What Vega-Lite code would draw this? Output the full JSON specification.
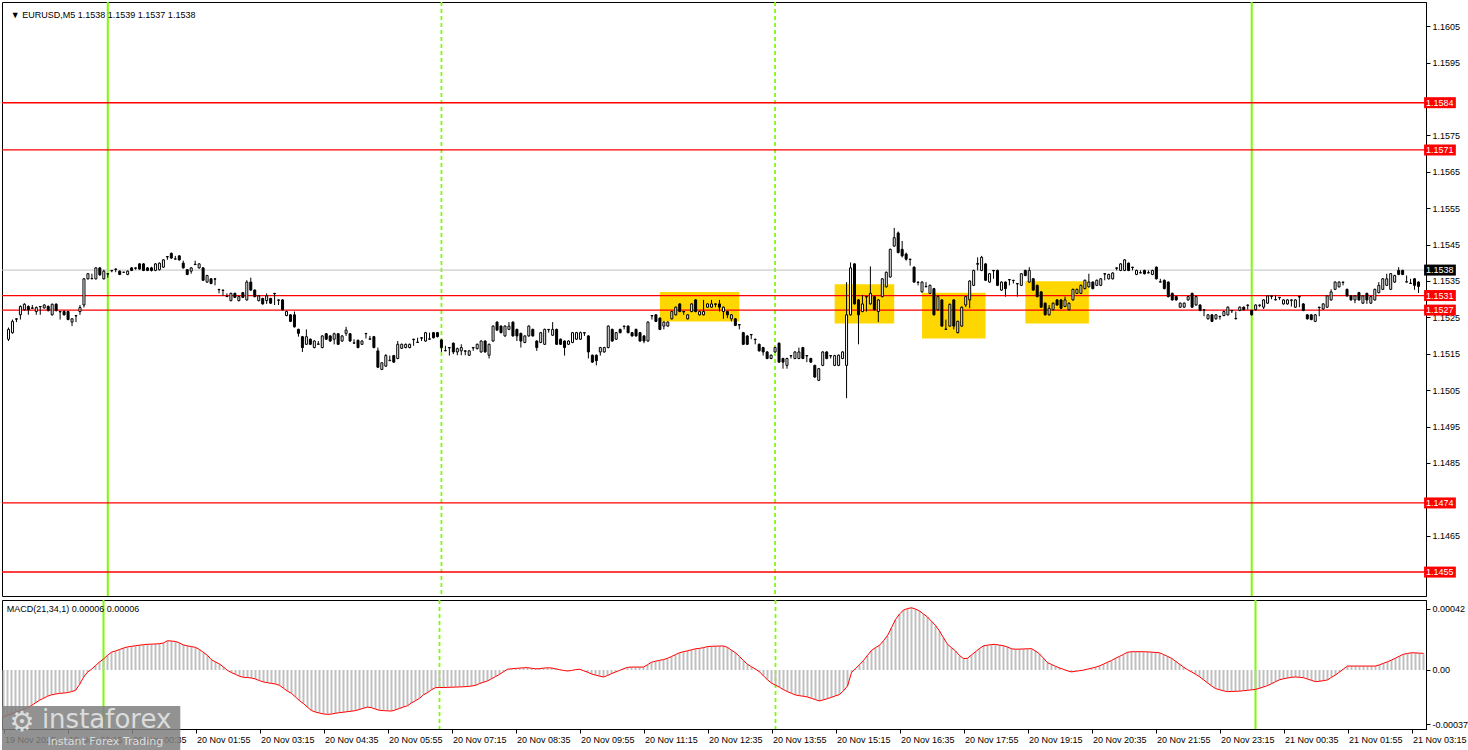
{
"$schema":"https://vega.github.io/schema/vega-lite/v6.json",
"padding":{"left":0,"top":0,"right":0,"bottom":0},
"background":"white",
"spacing":0,
"config":{"view":{"stroke":"black","strokeWidth":1},"axis":{"labelFont":"Liberation Sans","labelFontSize":9,"labelColor":"#000000","tickColor":"#000000","domainColor":"#000000","grid":false},"text":{"font":"Liberation Sans"}},
"datasets":{
"bars":[
{"t":"2025-11-19T21:55","o":1.1519,"h":1.15222,"l":1.15185,"c":1.15217,"m":-0.00032},
{"t":"2025-11-19T22:00","o":1.15208,"h":1.15244,"l":1.15205,"c":1.15239,"m":-0.00031},
{"t":"2025-11-19T22:05","o":1.15246,"h":1.15247,"l":1.15237,"c":1.15245,"m":-0.0003},
{"t":"2025-11-19T22:10","o":1.15257,"h":1.15283,"l":1.15244,"c":1.1528,"m":-0.00029},
{"t":"2025-11-19T22:15","o":1.15271,"h":1.15289,"l":1.15269,"c":1.15286,"m":-0.00028},
{"t":"2025-11-19T22:20","o":1.1528,"h":1.15283,"l":1.15257,"c":1.15271,"m":-0.00027},
{"t":"2025-11-19T22:25","o":1.15276,"h":1.15284,"l":1.15275,"c":1.15275,"m":-0.000258},
{"t":"2025-11-19T22:30","o":1.15266,"h":1.1528,"l":1.15257,"c":1.15277,"m":-0.000243},
{"t":"2025-11-19T22:35","o":1.1528,"h":1.15281,"l":1.15257,"c":1.15279,"m":-0.000225},
{"t":"2025-11-19T22:40","o":1.15276,"h":1.15286,"l":1.15274,"c":1.15284,"m":-0.000207},
{"t":"2025-11-19T22:45","o":1.1528,"h":1.15283,"l":1.15266,"c":1.15269,"m":-0.000194},
{"t":"2025-11-19T22:50","o":1.15257,"h":1.15288,"l":1.15255,"c":1.15286,"m":-0.00018},
{"t":"2025-11-19T22:55","o":1.15286,"h":1.15289,"l":1.15266,"c":1.15269,"m":-0.00017},
{"t":"2025-11-19T23:00","o":1.15266,"h":1.15267,"l":1.15244,"c":1.15265,"m":-0.000165},
{"t":"2025-11-19T23:05","o":1.15266,"h":1.15269,"l":1.15255,"c":1.15257,"m":-0.00016},
{"t":"2025-11-19T23:10","o":1.15266,"h":1.15268,"l":1.15242,"c":1.15244,"m":-0.000158},
{"t":"2025-11-19T23:15","o":1.15237,"h":1.15248,"l":1.15226,"c":1.15246,"m":-0.000155},
{"t":"2025-11-19T23:20","o":1.15255,"h":1.15256,"l":1.15237,"c":1.15254,"m":-0.000148},
{"t":"2025-11-19T23:25","o":1.15266,"h":1.15284,"l":1.15257,"c":1.15277,"m":-0.00014},
{"t":"2025-11-19T23:30","o":1.15284,"h":1.15358,"l":1.15277,"c":1.15356,"m":-0.0001},
{"t":"2025-11-19T23:35","o":1.15356,"h":1.15372,"l":1.15354,"c":1.1537,"m":-0.00005},
{"t":"2025-11-19T23:40","o":1.15356,"h":1.1537,"l":1.15355,"c":1.15357,"m":-0.000015},
{"t":"2025-11-19T23:45","o":1.15356,"h":1.15388,"l":1.15354,"c":1.15386,"m":0.000005},
{"t":"2025-11-19T23:50","o":1.15386,"h":1.15388,"l":1.15364,"c":1.15367,"m":0.00003},
{"t":"2025-11-19T23:55","o":1.15356,"h":1.15381,"l":1.15354,"c":1.15377,"m":0.000055},
{"t":"2025-11-20T00:00","o":1.1537,"h":1.15371,"l":1.15359,"c":1.15369,"m":0.000075},
{"t":"2025-11-20T00:05","o":1.15379,"h":1.1538,"l":1.15374,"c":1.15378,"m":0.0001},
{"t":"2025-11-20T00:10","o":1.15383,"h":1.15384,"l":1.15374,"c":1.15382,"m":0.000122},
{"t":"2025-11-20T00:15","o":1.15377,"h":1.15379,"l":1.15366,"c":1.15368,"m":0.00013},
{"t":"2025-11-20T00:20","o":1.15374,"h":1.15375,"l":1.15373,"c":1.15374,"m":0.00014},
{"t":"2025-11-20T00:25","o":1.15368,"h":1.15379,"l":1.15366,"c":1.15377,"m":0.00015},
{"t":"2025-11-20T00:30","o":1.15386,"h":1.15388,"l":1.15377,"c":1.15379,"m":0.000158},
{"t":"2025-11-20T00:35","o":1.15386,"h":1.15387,"l":1.15381,"c":1.15385,"m":0.000162},
{"t":"2025-11-20T00:40","o":1.15397,"h":1.15399,"l":1.15381,"c":1.15383,"m":0.000166},
{"t":"2025-11-20T00:45","o":1.15397,"h":1.15399,"l":1.15377,"c":1.15379,"m":0.00017},
{"t":"2025-11-20T00:50","o":1.15386,"h":1.15388,"l":1.15377,"c":1.15379,"m":0.000173},
{"t":"2025-11-20T00:55","o":1.15386,"h":1.15389,"l":1.15376,"c":1.15379,"m":0.000176},
{"t":"2025-11-20T01:00","o":1.15379,"h":1.15399,"l":1.15377,"c":1.15397,"m":0.000177},
{"t":"2025-11-20T01:05","o":1.15381,"h":1.15401,"l":1.15379,"c":1.15399,"m":0.000178},
{"t":"2025-11-20T01:10","o":1.15388,"h":1.1541,"l":1.15386,"c":1.15408,"m":0.00018},
{"t":"2025-11-20T01:15","o":1.15417,"h":1.15418,"l":1.15408,"c":1.15416,"m":0.000185},
{"t":"2025-11-20T01:20","o":1.15426,"h":1.15428,"l":1.15411,"c":1.15413,"m":0.0002},
{"t":"2025-11-20T01:25","o":1.1541,"h":1.15419,"l":1.15409,"c":1.15411,"m":0.000198},
{"t":"2025-11-20T01:30","o":1.15419,"h":1.15421,"l":1.15406,"c":1.15408,"m":0.000195},
{"t":"2025-11-20T01:35","o":1.15399,"h":1.15406,"l":1.15384,"c":1.15386,"m":0.000185},
{"t":"2025-11-20T01:40","o":1.15381,"h":1.15383,"l":1.15366,"c":1.15368,"m":0.000171},
{"t":"2025-11-20T01:45","o":1.15377,"h":1.15388,"l":1.1537,"c":1.15386,"m":0.000165},
{"t":"2025-11-20T01:50","o":1.15395,"h":1.15406,"l":1.15394,"c":1.15396,"m":0.00016},
{"t":"2025-11-20T01:55","o":1.15386,"h":1.15399,"l":1.15384,"c":1.15397,"m":0.000155},
{"t":"2025-11-20T02:00","o":1.15386,"h":1.15388,"l":1.1535,"c":1.15352,"m":0.00014},
{"t":"2025-11-20T02:05","o":1.15347,"h":1.15367,"l":1.15345,"c":1.15365,"m":0.00012},
{"t":"2025-11-20T02:10","o":1.15356,"h":1.15358,"l":1.15341,"c":1.15343,"m":0.0001},
{"t":"2025-11-20T02:15","o":1.15356,"h":1.15357,"l":1.15338,"c":1.15355,"m":0.00007},
{"t":"2025-11-20T02:20","o":1.15327,"h":1.15328,"l":1.15316,"c":1.15326,"m":0.000055},
{"t":"2025-11-20T02:25","o":1.15325,"h":1.15326,"l":1.15309,"c":1.15324,"m":0.000041},
{"t":"2025-11-20T02:30","o":1.15307,"h":1.15316,"l":1.15306,"c":1.15308,"m":0.00002},
{"t":"2025-11-20T02:35","o":1.15296,"h":1.15318,"l":1.15294,"c":1.15316,"m":-0.000003},
{"t":"2025-11-20T02:40","o":1.15316,"h":1.15318,"l":1.15303,"c":1.15305,"m":-0.000018},
{"t":"2025-11-20T02:45","o":1.15296,"h":1.15309,"l":1.15294,"c":1.15307,"m":-0.00003},
{"t":"2025-11-20T02:50","o":1.15318,"h":1.1532,"l":1.15303,"c":1.15305,"m":-0.000043},
{"t":"2025-11-20T02:55","o":1.15298,"h":1.15352,"l":1.15296,"c":1.15347,"m":-0.00005},
{"t":"2025-11-20T03:00","o":1.15347,"h":1.15359,"l":1.15323,"c":1.15325,"m":-0.000052},
{"t":"2025-11-20T03:05","o":1.15325,"h":1.15327,"l":1.15305,"c":1.15307,"m":-0.000055},
{"t":"2025-11-20T03:10","o":1.15296,"h":1.15311,"l":1.15294,"c":1.15309,"m":-0.000062},
{"t":"2025-11-20T03:15","o":1.15302,"h":1.15304,"l":1.15285,"c":1.15287,"m":-0.000073},
{"t":"2025-11-20T03:20","o":1.15296,"h":1.15316,"l":1.15287,"c":1.15309,"m":-0.000082},
{"t":"2025-11-20T03:25","o":1.15302,"h":1.15304,"l":1.15287,"c":1.15289,"m":-0.000087},
{"t":"2025-11-20T03:30","o":1.15316,"h":1.15317,"l":1.15284,"c":1.15315,"m":-0.000092},
{"t":"2025-11-20T03:35","o":1.15298,"h":1.15299,"l":1.15284,"c":1.15297,"m":-0.000096},
{"t":"2025-11-20T03:40","o":1.15298,"h":1.153,"l":1.15269,"c":1.15271,"m":-0.000105},
{"t":"2025-11-20T03:45","o":1.15255,"h":1.15268,"l":1.15253,"c":1.15266,"m":-0.000125},
{"t":"2025-11-20T03:50","o":1.15257,"h":1.15259,"l":1.15237,"c":1.15239,"m":-0.000145},
{"t":"2025-11-20T03:55","o":1.15257,"h":1.15266,"l":1.15222,"c":1.15224,"m":-0.00016},
{"t":"2025-11-20T04:00","o":1.15217,"h":1.15219,"l":1.15197,"c":1.15206,"m":-0.000185},
{"t":"2025-11-20T04:05","o":1.15197,"h":1.15199,"l":1.15155,"c":1.15167,"m":-0.00021},
{"t":"2025-11-20T04:10","o":1.15176,"h":1.15217,"l":1.15174,"c":1.15197,"m":-0.00023},
{"t":"2025-11-20T04:15","o":1.1519,"h":1.15192,"l":1.15174,"c":1.15176,"m":-0.000255},
{"t":"2025-11-20T04:20","o":1.15167,"h":1.15187,"l":1.15165,"c":1.15185,"m":-0.000278},
{"t":"2025-11-20T04:25","o":1.15176,"h":1.15185,"l":1.15175,"c":1.15177,"m":-0.000288},
{"t":"2025-11-20T04:30","o":1.15167,"h":1.15201,"l":1.15165,"c":1.15199,"m":-0.000295},
{"t":"2025-11-20T04:35","o":1.15205,"h":1.15207,"l":1.15188,"c":1.1519,"m":-0.000301},
{"t":"2025-11-20T04:40","o":1.15199,"h":1.15201,"l":1.15183,"c":1.15185,"m":-0.000304},
{"t":"2025-11-20T04:45","o":1.1519,"h":1.15208,"l":1.15176,"c":1.15205,"m":-0.000302},
{"t":"2025-11-20T04:50","o":1.15205,"h":1.15207,"l":1.15174,"c":1.15176,"m":-0.000296},
{"t":"2025-11-20T04:55","o":1.15185,"h":1.15201,"l":1.15183,"c":1.15199,"m":-0.000292},
{"t":"2025-11-20T05:00","o":1.15206,"h":1.15224,"l":1.15199,"c":1.15215,"m":-0.000289},
{"t":"2025-11-20T05:05","o":1.15205,"h":1.15207,"l":1.15183,"c":1.15185,"m":-0.000285},
{"t":"2025-11-20T05:10","o":1.15179,"h":1.1519,"l":1.15178,"c":1.1518,"m":-0.000282},
{"t":"2025-11-20T05:15","o":1.15187,"h":1.15189,"l":1.15165,"c":1.15167,"m":-0.000278},
{"t":"2025-11-20T05:20","o":1.15176,"h":1.15187,"l":1.15174,"c":1.15185,"m":-0.00027},
{"t":"2025-11-20T05:25","o":1.15206,"h":1.15207,"l":1.15192,"c":1.15205,"m":-0.000262},
{"t":"2025-11-20T05:30","o":1.1519,"h":1.15199,"l":1.15189,"c":1.15191,"m":-0.000254},
{"t":"2025-11-20T05:35","o":1.15197,"h":1.15199,"l":1.15165,"c":1.15167,"m":-0.000258},
{"t":"2025-11-20T05:40","o":1.15158,"h":1.15167,"l":1.15111,"c":1.15113,"m":-0.000268},
{"t":"2025-11-20T05:45","o":1.15107,"h":1.15127,"l":1.15105,"c":1.15125,"m":-0.000276},
{"t":"2025-11-20T05:50","o":1.15116,"h":1.15149,"l":1.15114,"c":1.15145,"m":-0.000278},
{"t":"2025-11-20T05:55","o":1.15131,"h":1.15145,"l":1.1513,"c":1.15132,"m":-0.00028},
{"t":"2025-11-20T06:00","o":1.15145,"h":1.15147,"l":1.15125,"c":1.15127,"m":-0.000281},
{"t":"2025-11-20T06:05","o":1.15137,"h":1.15185,"l":1.15135,"c":1.15176,"m":-0.000273},
{"t":"2025-11-20T06:10","o":1.15165,"h":1.15178,"l":1.15163,"c":1.15176,"m":-0.000263},
{"t":"2025-11-20T06:15","o":1.15167,"h":1.15178,"l":1.15165,"c":1.15176,"m":-0.000253},
{"t":"2025-11-20T06:20","o":1.15167,"h":1.15178,"l":1.15165,"c":1.15176,"m":-0.000245},
{"t":"2025-11-20T06:25","o":1.1519,"h":1.15191,"l":1.15172,"c":1.15189,"m":-0.000225},
{"t":"2025-11-20T06:30","o":1.15181,"h":1.15194,"l":1.1518,"c":1.15182,"m":-0.00021},
{"t":"2025-11-20T06:35","o":1.15194,"h":1.15195,"l":1.15185,"c":1.15193,"m":-0.000194},
{"t":"2025-11-20T06:40","o":1.15185,"h":1.1521,"l":1.15183,"c":1.15208,"m":-0.00017},
{"t":"2025-11-20T06:45","o":1.1519,"h":1.15208,"l":1.15189,"c":1.15191,"m":-0.000155},
{"t":"2025-11-20T06:50","o":1.15208,"h":1.1521,"l":1.15192,"c":1.15194,"m":-0.000135},
{"t":"2025-11-20T06:55","o":1.15208,"h":1.1521,"l":1.15195,"c":1.15197,"m":-0.000121},
{"t":"2025-11-20T07:00","o":1.15188,"h":1.1519,"l":1.15155,"c":1.15167,"m":-0.00012},
{"t":"2025-11-20T07:05","o":1.15158,"h":1.15172,"l":1.15157,"c":1.15159,"m":-0.00012},
{"t":"2025-11-20T07:10","o":1.15167,"h":1.15168,"l":1.15145,"c":1.15166,"m":-0.000119},
{"t":"2025-11-20T07:15","o":1.15179,"h":1.15181,"l":1.15149,"c":1.15155,"m":-0.000118},
{"t":"2025-11-20T07:20","o":1.15155,"h":1.15167,"l":1.15146,"c":1.15164,"m":-0.000117},
{"t":"2025-11-20T07:25","o":1.15158,"h":1.15176,"l":1.15146,"c":1.15167,"m":-0.000116},
{"t":"2025-11-20T07:30","o":1.15158,"h":1.15159,"l":1.15146,"c":1.15157,"m":-0.000115},
{"t":"2025-11-20T07:35","o":1.15146,"h":1.1516,"l":1.15144,"c":1.15158,"m":-0.000113},
{"t":"2025-11-20T07:40","o":1.15167,"h":1.15168,"l":1.15158,"c":1.15166,"m":-0.00011},
{"t":"2025-11-20T07:45","o":1.15164,"h":1.15178,"l":1.15162,"c":1.15176,"m":-0.000105},
{"t":"2025-11-20T07:50","o":1.15155,"h":1.15187,"l":1.15153,"c":1.15185,"m":-0.000093},
{"t":"2025-11-20T07:55","o":1.15185,"h":1.15187,"l":1.15153,"c":1.15155,"m":-0.000084},
{"t":"2025-11-20T08:00","o":1.15146,"h":1.15178,"l":1.15137,"c":1.15176,"m":-0.000075},
{"t":"2025-11-20T08:05","o":1.15185,"h":1.15228,"l":1.15183,"c":1.15226,"m":-0.00006},
{"t":"2025-11-20T08:10","o":1.15237,"h":1.15239,"l":1.15213,"c":1.15215,"m":-0.000045},
{"t":"2025-11-20T08:15","o":1.15226,"h":1.15228,"l":1.15206,"c":1.15208,"m":-0.00003},
{"t":"2025-11-20T08:20","o":1.15199,"h":1.15228,"l":1.15197,"c":1.15226,"m":-0.000012},
{"t":"2025-11-20T08:25","o":1.15217,"h":1.15237,"l":1.15215,"c":1.15226,"m":0.000005},
{"t":"2025-11-20T08:30","o":1.15237,"h":1.15239,"l":1.15197,"c":1.15199,"m":0.000008},
{"t":"2025-11-20T08:35","o":1.15217,"h":1.15219,"l":1.15185,"c":1.15199,"m":0.000011},
{"t":"2025-11-20T08:40","o":1.15206,"h":1.15208,"l":1.15167,"c":1.15185,"m":0.000013},
{"t":"2025-11-20T08:45","o":1.15181,"h":1.15201,"l":1.15179,"c":1.15199,"m":0.000015},
{"t":"2025-11-20T08:50","o":1.15199,"h":1.15228,"l":1.15197,"c":1.15226,"m":0.000016},
{"t":"2025-11-20T08:55","o":1.15217,"h":1.15219,"l":1.15197,"c":1.15199,"m":0.000012},
{"t":"2025-11-20T09:00","o":1.15185,"h":1.15187,"l":1.15158,"c":1.15167,"m":0.000008},
{"t":"2025-11-20T09:05","o":1.15181,"h":1.1521,"l":1.15179,"c":1.15208,"m":0.000009},
{"t":"2025-11-20T09:10","o":1.15176,"h":1.15219,"l":1.15174,"c":1.15217,"m":0.000013},
{"t":"2025-11-20T09:15","o":1.15217,"h":1.15218,"l":1.15208,"c":1.15216,"m":0.000015},
{"t":"2025-11-20T09:20","o":1.15201,"h":1.15237,"l":1.15199,"c":1.15217,"m":0.000014},
{"t":"2025-11-20T09:25","o":1.15217,"h":1.15219,"l":1.15174,"c":1.15176,"m":0.000008},
{"t":"2025-11-20T09:30","o":1.1519,"h":1.15192,"l":1.15174,"c":1.15176,"m":0.000002},
{"t":"2025-11-20T09:35","o":1.15185,"h":1.15187,"l":1.15145,"c":1.15167,"m":-0.000003},
{"t":"2025-11-20T09:40","o":1.15176,"h":1.15187,"l":1.15174,"c":1.15185,"m":-0.000007},
{"t":"2025-11-20T09:45","o":1.15181,"h":1.1521,"l":1.15179,"c":1.15208,"m":-0.000003},
{"t":"2025-11-20T09:50","o":1.1519,"h":1.1521,"l":1.15188,"c":1.15208,"m":0.000002},
{"t":"2025-11-20T09:55","o":1.1519,"h":1.15211,"l":1.15188,"c":1.15208,"m":0.000005},
{"t":"2025-11-20T10:00","o":1.15208,"h":1.15209,"l":1.15199,"c":1.15207,"m":-0.000005},
{"t":"2025-11-20T10:05","o":1.15199,"h":1.15201,"l":1.15137,"c":1.15155,"m":-0.000015},
{"t":"2025-11-20T10:10","o":1.15146,"h":1.15148,"l":1.15125,"c":1.15127,"m":-0.000027},
{"t":"2025-11-20T10:15","o":1.15146,"h":1.15148,"l":1.15118,"c":1.15131,"m":-0.000035},
{"t":"2025-11-20T10:20","o":1.15155,"h":1.15169,"l":1.15145,"c":1.15167,"m":-0.000042},
{"t":"2025-11-20T10:25","o":1.15155,"h":1.15169,"l":1.15153,"c":1.15167,"m":-0.000048},
{"t":"2025-11-20T10:30","o":1.15167,"h":1.15228,"l":1.15165,"c":1.15226,"m":-0.000038},
{"t":"2025-11-20T10:35","o":1.15217,"h":1.15219,"l":1.15183,"c":1.15185,"m":-0.000025},
{"t":"2025-11-20T10:40","o":1.1519,"h":1.1521,"l":1.15188,"c":1.15208,"m":-0.000014},
{"t":"2025-11-20T10:45","o":1.15217,"h":1.15219,"l":1.15206,"c":1.15208,"m":-0.000003},
{"t":"2025-11-20T10:50","o":1.15226,"h":1.15227,"l":1.15217,"c":1.15225,"m":0.000008},
{"t":"2025-11-20T10:55","o":1.15226,"h":1.15228,"l":1.15206,"c":1.15208,"m":0.000018},
{"t":"2025-11-20T11:00","o":1.15208,"h":1.1521,"l":1.15197,"c":1.15199,"m":0.00002},
{"t":"2025-11-20T11:05","o":1.15217,"h":1.15219,"l":1.15197,"c":1.15199,"m":0.00002},
{"t":"2025-11-20T11:10","o":1.15208,"h":1.1521,"l":1.15183,"c":1.15185,"m":0.00002},
{"t":"2025-11-20T11:15","o":1.15199,"h":1.15201,"l":1.15179,"c":1.15185,"m":0.00002},
{"t":"2025-11-20T11:20","o":1.15185,"h":1.15239,"l":1.15183,"c":1.15237,"m":0.000036},
{"t":"2025-11-20T11:25","o":1.15255,"h":1.15256,"l":1.15244,"c":1.15254,"m":0.000053},
{"t":"2025-11-20T11:30","o":1.15257,"h":1.15259,"l":1.15237,"c":1.15239,"m":0.00006},
{"t":"2025-11-20T11:35","o":1.15248,"h":1.1525,"l":1.15215,"c":1.15217,"m":0.000066},
{"t":"2025-11-20T11:40","o":1.15226,"h":1.15239,"l":1.15217,"c":1.15237,"m":0.000071},
{"t":"2025-11-20T11:45","o":1.15226,"h":1.15239,"l":1.15224,"c":1.15237,"m":0.00008},
{"t":"2025-11-20T11:50","o":1.15246,"h":1.15268,"l":1.15244,"c":1.15266,"m":0.000092},
{"t":"2025-11-20T11:55","o":1.15257,"h":1.1528,"l":1.15255,"c":1.15278,"m":0.000105},
{"t":"2025-11-20T12:00","o":1.15287,"h":1.15289,"l":1.15264,"c":1.15266,"m":0.000118},
{"t":"2025-11-20T12:05","o":1.15266,"h":1.15267,"l":1.15257,"c":1.15265,"m":0.000125},
{"t":"2025-11-20T12:10","o":1.15246,"h":1.15259,"l":1.15244,"c":1.15257,"m":0.000131},
{"t":"2025-11-20T12:15","o":1.15266,"h":1.15289,"l":1.15264,"c":1.15287,"m":0.000138},
{"t":"2025-11-20T12:20","o":1.15298,"h":1.153,"l":1.15264,"c":1.15266,"m":0.000145},
{"t":"2025-11-20T12:25","o":1.15257,"h":1.15268,"l":1.15255,"c":1.15266,"m":0.000148},
{"t":"2025-11-20T12:30","o":1.15257,"h":1.15298,"l":1.15255,"c":1.15266,"m":0.000153},
{"t":"2025-11-20T12:35","o":1.15278,"h":1.15289,"l":1.15276,"c":1.15287,"m":0.00016},
{"t":"2025-11-20T12:40","o":1.15278,"h":1.15298,"l":1.15276,"c":1.15287,"m":0.000162},
{"t":"2025-11-20T12:45","o":1.15287,"h":1.15288,"l":1.15278,"c":1.15286,"m":0.000163},
{"t":"2025-11-20T12:50","o":1.15287,"h":1.15298,"l":1.15266,"c":1.15278,"m":0.000164},
{"t":"2025-11-20T12:55","o":1.15266,"h":1.1528,"l":1.15246,"c":1.15278,"m":0.000164},
{"t":"2025-11-20T13:00","o":1.15266,"h":1.15268,"l":1.15248,"c":1.15257,"m":0.000155},
{"t":"2025-11-20T13:05","o":1.15246,"h":1.15259,"l":1.15239,"c":1.15257,"m":0.000135},
{"t":"2025-11-20T13:10","o":1.15246,"h":1.15248,"l":1.15226,"c":1.15228,"m":0.000118},
{"t":"2025-11-20T13:15","o":1.1523,"h":1.15231,"l":1.15217,"c":1.15229,"m":0.000092},
{"t":"2025-11-20T13:20","o":1.15208,"h":1.1521,"l":1.15174,"c":1.15176,"m":0.000065},
{"t":"2025-11-20T13:25","o":1.15199,"h":1.15201,"l":1.15174,"c":1.15176,"m":0.000039},
{"t":"2025-11-20T13:30","o":1.15203,"h":1.15204,"l":1.1519,"c":1.15202,"m":0.000022},
{"t":"2025-11-20T13:35","o":1.1519,"h":1.15191,"l":1.15176,"c":1.15189,"m":0.000006},
{"t":"2025-11-20T13:40","o":1.15176,"h":1.15178,"l":1.15156,"c":1.15158,"m":-0.000013},
{"t":"2025-11-20T13:45","o":1.15167,"h":1.15169,"l":1.15145,"c":1.15155,"m":-0.00004},
{"t":"2025-11-20T13:50","o":1.15155,"h":1.15157,"l":1.15135,"c":1.15137,"m":-0.000067},
{"t":"2025-11-20T13:55","o":1.15137,"h":1.15148,"l":1.15135,"c":1.15146,"m":-0.00009},
{"t":"2025-11-20T14:00","o":1.15155,"h":1.15169,"l":1.15153,"c":1.15167,"m":-0.000104},
{"t":"2025-11-20T14:05","o":1.15179,"h":1.15181,"l":1.15125,"c":1.15127,"m":-0.000118},
{"t":"2025-11-20T14:10","o":1.15137,"h":1.15139,"l":1.15109,"c":1.15127,"m":-0.000135},
{"t":"2025-11-20T14:15","o":1.15118,"h":1.15139,"l":1.15109,"c":1.15137,"m":-0.000148},
{"t":"2025-11-20T14:20","o":1.15145,"h":1.15146,"l":1.15137,"c":1.15144,"m":-0.00016},
{"t":"2025-11-20T14:25","o":1.15137,"h":1.15157,"l":1.15135,"c":1.15155,"m":-0.000171},
{"t":"2025-11-20T14:30","o":1.15137,"h":1.15167,"l":1.15135,"c":1.15155,"m":-0.000176},
{"t":"2025-11-20T14:35","o":1.15167,"h":1.15169,"l":1.15135,"c":1.15137,"m":-0.00018},
{"t":"2025-11-20T14:40","o":1.15145,"h":1.15146,"l":1.15127,"c":1.15144,"m":-0.000185},
{"t":"2025-11-20T14:45","o":1.15137,"h":1.15139,"l":1.15125,"c":1.15127,"m":-0.000194},
{"t":"2025-11-20T14:50","o":1.15118,"h":1.1512,"l":1.15084,"c":1.15086,"m":-0.000203},
{"t":"2025-11-20T14:55","o":1.15077,"h":1.15111,"l":1.15075,"c":1.15109,"m":-0.000212},
{"t":"2025-11-20T15:00","o":1.15118,"h":1.15157,"l":1.15116,"c":1.15155,"m":-0.000204},
{"t":"2025-11-20T15:05","o":1.15155,"h":1.15157,"l":1.15135,"c":1.15137,"m":-0.000196},
{"t":"2025-11-20T15:10","o":1.15145,"h":1.15146,"l":1.15137,"c":1.15144,"m":-0.000187},
{"t":"2025-11-20T15:15","o":1.15118,"h":1.15147,"l":1.15116,"c":1.15145,"m":-0.000177},
{"t":"2025-11-20T15:20","o":1.15118,"h":1.15148,"l":1.15116,"c":1.15146,"m":-0.000168},
{"t":"2025-11-20T15:25","o":1.15137,"h":1.15157,"l":1.15135,"c":1.15155,"m":-0.000142},
{"t":"2025-11-20T15:30","o":1.15118,"h":1.15347,"l":1.15028,"c":1.15257,"m":-0.00011},
{"t":"2025-11-20T15:35","o":1.15257,"h":1.15401,"l":1.15255,"c":1.15386,"m":-0.000018},
{"t":"2025-11-20T15:40","o":1.15397,"h":1.15399,"l":1.15285,"c":1.15287,"m":0.00001},
{"t":"2025-11-20T15:45","o":1.15298,"h":1.153,"l":1.15176,"c":1.15257,"m":0.000036},
{"t":"2025-11-20T15:50","o":1.15266,"h":1.15311,"l":1.15264,"c":1.15287,"m":0.000065},
{"t":"2025-11-20T15:55","o":1.15307,"h":1.15308,"l":1.15266,"c":1.15306,"m":0.0001},
{"t":"2025-11-20T16:00","o":1.15287,"h":1.1539,"l":1.15285,"c":1.15316,"m":0.000134},
{"t":"2025-11-20T16:05","o":1.15307,"h":1.15309,"l":1.15269,"c":1.15271,"m":0.000153},
{"t":"2025-11-20T16:10","o":1.15266,"h":1.153,"l":1.15237,"c":1.15298,"m":0.000169},
{"t":"2025-11-20T16:15","o":1.15307,"h":1.15358,"l":1.15305,"c":1.15356,"m":0.0002},
{"t":"2025-11-20T16:20","o":1.15334,"h":1.15376,"l":1.15332,"c":1.15374,"m":0.000235},
{"t":"2025-11-20T16:25","o":1.15361,"h":1.15439,"l":1.15359,"c":1.15437,"m":0.00029},
{"t":"2025-11-20T16:30","o":1.15446,"h":1.15496,"l":1.15444,"c":1.15469,"m":0.000345},
{"t":"2025-11-20T16:35","o":1.15482,"h":1.15486,"l":1.15426,"c":1.15428,"m":0.000383},
{"t":"2025-11-20T16:40","o":1.15437,"h":1.1546,"l":1.15415,"c":1.15419,"m":0.00041},
{"t":"2025-11-20T16:45","o":1.15424,"h":1.15428,"l":1.15406,"c":1.1541,"m":0.00042},
{"t":"2025-11-20T16:50","o":1.1541,"h":1.15411,"l":1.15392,"c":1.15409,"m":0.000426},
{"t":"2025-11-20T16:55","o":1.15388,"h":1.1539,"l":1.15345,"c":1.15347,"m":0.000417},
{"t":"2025-11-20T17:00","o":1.15347,"h":1.15348,"l":1.15338,"c":1.15346,"m":0.000404},
{"t":"2025-11-20T17:05","o":1.1532,"h":1.15349,"l":1.15318,"c":1.15347,"m":0.000383},
{"t":"2025-11-20T17:10","o":1.15334,"h":1.15347,"l":1.15333,"c":1.15335,"m":0.000363},
{"t":"2025-11-20T17:15","o":1.15316,"h":1.1534,"l":1.15314,"c":1.15338,"m":0.000333},
{"t":"2025-11-20T17:20","o":1.15329,"h":1.15331,"l":1.15255,"c":1.15257,"m":0.000305},
{"t":"2025-11-20T17:25","o":1.15271,"h":1.15311,"l":1.15269,"c":1.15307,"m":0.000267},
{"t":"2025-11-20T17:30","o":1.15298,"h":1.153,"l":1.15224,"c":1.15226,"m":0.00022},
{"t":"2025-11-20T17:35","o":1.15217,"h":1.15244,"l":1.15216,"c":1.15218,"m":0.000176},
{"t":"2025-11-20T17:40","o":1.15226,"h":1.15288,"l":1.15224,"c":1.15286,"m":0.000153},
{"t":"2025-11-20T17:45","o":1.15298,"h":1.153,"l":1.15217,"c":1.15226,"m":0.00013},
{"t":"2025-11-20T17:50","o":1.15208,"h":1.15241,"l":1.15206,"c":1.15239,"m":0.000099},
{"t":"2025-11-20T17:55","o":1.15226,"h":1.1528,"l":1.15224,"c":1.15278,"m":0.000078},
{"t":"2025-11-20T18:00","o":1.15284,"h":1.15309,"l":1.15278,"c":1.15307,"m":0.00008},
{"t":"2025-11-20T18:05","o":1.15298,"h":1.15352,"l":1.15275,"c":1.1535,"m":0.000103},
{"t":"2025-11-20T18:10","o":1.15338,"h":1.15381,"l":1.15336,"c":1.15379,"m":0.000125},
{"t":"2025-11-20T18:15","o":1.15396,"h":1.15415,"l":1.15379,"c":1.15398,"m":0.000147},
{"t":"2025-11-20T18:20","o":1.15379,"h":1.15419,"l":1.15377,"c":1.15415,"m":0.000165},
{"t":"2025-11-20T18:25","o":1.15397,"h":1.15399,"l":1.1535,"c":1.15352,"m":0.00017},
{"t":"2025-11-20T18:30","o":1.15347,"h":1.15372,"l":1.15345,"c":1.1537,"m":0.000174},
{"t":"2025-11-20T18:35","o":1.15379,"h":1.1538,"l":1.15356,"c":1.15378,"m":0.000175},
{"t":"2025-11-20T18:40","o":1.15379,"h":1.15381,"l":1.15336,"c":1.15338,"m":0.00017},
{"t":"2025-11-20T18:45","o":1.15325,"h":1.15349,"l":1.15323,"c":1.15347,"m":0.000166},
{"t":"2025-11-20T18:50","o":1.15347,"h":1.15349,"l":1.15307,"c":1.15329,"m":0.000157},
{"t":"2025-11-20T18:55","o":1.15354,"h":1.15355,"l":1.15338,"c":1.15353,"m":0.000145},
{"t":"2025-11-20T19:00","o":1.15352,"h":1.15353,"l":1.15343,"c":1.15351,"m":0.000142},
{"t":"2025-11-20T19:05","o":1.15343,"h":1.15344,"l":1.15307,"c":1.15342,"m":0.000143},
{"t":"2025-11-20T19:10","o":1.15338,"h":1.15372,"l":1.15336,"c":1.1537,"m":0.000144},
{"t":"2025-11-20T19:15","o":1.15379,"h":1.15381,"l":1.15363,"c":1.15365,"m":0.000145},
{"t":"2025-11-20T19:20","o":1.15347,"h":1.15388,"l":1.15345,"c":1.15379,"m":0.000146},
{"t":"2025-11-20T19:25","o":1.15356,"h":1.15358,"l":1.15323,"c":1.15325,"m":0.00013},
{"t":"2025-11-20T19:30","o":1.15338,"h":1.1534,"l":1.15305,"c":1.15307,"m":0.00011},
{"t":"2025-11-20T19:35","o":1.1532,"h":1.15322,"l":1.15276,"c":1.15278,"m":0.00008},
{"t":"2025-11-20T19:40","o":1.15289,"h":1.15291,"l":1.15255,"c":1.15257,"m":0.00005},
{"t":"2025-11-20T19:45","o":1.15257,"h":1.15284,"l":1.15255,"c":1.15275,"m":0.000038},
{"t":"2025-11-20T19:50","o":1.15271,"h":1.15291,"l":1.15269,"c":1.15289,"m":0.000025},
{"t":"2025-11-20T19:55","o":1.15298,"h":1.153,"l":1.15282,"c":1.15284,"m":0.000014},
{"t":"2025-11-20T20:00","o":1.15298,"h":1.153,"l":1.15273,"c":1.15275,"m":0.000004},
{"t":"2025-11-20T20:05","o":1.1528,"h":1.15307,"l":1.15278,"c":1.15298,"m":-0.000006},
{"t":"2025-11-20T20:10","o":1.15271,"h":1.15291,"l":1.15269,"c":1.15289,"m":-0.000013},
{"t":"2025-11-20T20:15","o":1.15298,"h":1.15329,"l":1.15296,"c":1.15327,"m":-0.000009},
{"t":"2025-11-20T20:20","o":1.15316,"h":1.15329,"l":1.15314,"c":1.15327,"m":-0.000005},
{"t":"2025-11-20T20:25","o":1.15316,"h":1.1534,"l":1.15314,"c":1.15338,"m":-0.000001},
{"t":"2025-11-20T20:30","o":1.15329,"h":1.15354,"l":1.15327,"c":1.15352,"m":0.000006},
{"t":"2025-11-20T20:35","o":1.15334,"h":1.1537,"l":1.15332,"c":1.15347,"m":0.000012},
{"t":"2025-11-20T20:40","o":1.15347,"h":1.15349,"l":1.15327,"c":1.15329,"m":0.000019},
{"t":"2025-11-20T20:45","o":1.15338,"h":1.15354,"l":1.15336,"c":1.15352,"m":0.000028},
{"t":"2025-11-20T20:50","o":1.15338,"h":1.15358,"l":1.15336,"c":1.15356,"m":0.00004},
{"t":"2025-11-20T20:55","o":1.1537,"h":1.15371,"l":1.15352,"c":1.15369,"m":0.000053},
{"t":"2025-11-20T21:00","o":1.15356,"h":1.1537,"l":1.15354,"c":1.15368,"m":0.000065},
{"t":"2025-11-20T21:05","o":1.15356,"h":1.15374,"l":1.15354,"c":1.15372,"m":0.00008},
{"t":"2025-11-20T21:10","o":1.15386,"h":1.15387,"l":1.15379,"c":1.15385,"m":0.000093},
{"t":"2025-11-20T21:15","o":1.15379,"h":1.15399,"l":1.15377,"c":1.15397,"m":0.000107},
{"t":"2025-11-20T21:20","o":1.15379,"h":1.1541,"l":1.15377,"c":1.15408,"m":0.000121},
{"t":"2025-11-20T21:25","o":1.15399,"h":1.15401,"l":1.15377,"c":1.15379,"m":0.000125},
{"t":"2025-11-20T21:30","o":1.15388,"h":1.15389,"l":1.15379,"c":1.15387,"m":0.000125},
{"t":"2025-11-20T21:35","o":1.15368,"h":1.15381,"l":1.15366,"c":1.15379,"m":0.000125},
{"t":"2025-11-20T21:40","o":1.15372,"h":1.15379,"l":1.15371,"c":1.15373,"m":0.000125},
{"t":"2025-11-20T21:45","o":1.15379,"h":1.15381,"l":1.15368,"c":1.1537,"m":0.000124},
{"t":"2025-11-20T21:50","o":1.15372,"h":1.15379,"l":1.15371,"c":1.15373,"m":0.000122},
{"t":"2025-11-20T21:55","o":1.15368,"h":1.15381,"l":1.15366,"c":1.15379,"m":0.00012},
{"t":"2025-11-20T22:00","o":1.15388,"h":1.1539,"l":1.15354,"c":1.15356,"m":0.000118},
{"t":"2025-11-20T22:05","o":1.15347,"h":1.15356,"l":1.15346,"c":1.15348,"m":0.000106},
{"t":"2025-11-20T22:10","o":1.15352,"h":1.15354,"l":1.15327,"c":1.15329,"m":0.000093},
{"t":"2025-11-20T22:15","o":1.15347,"h":1.15349,"l":1.15305,"c":1.15307,"m":0.00008},
{"t":"2025-11-20T22:20","o":1.15316,"h":1.15318,"l":1.15296,"c":1.15298,"m":0.00006},
{"t":"2025-11-20T22:25","o":1.15307,"h":1.15309,"l":1.15296,"c":1.15298,"m":0.00004},
{"t":"2025-11-20T22:30","o":1.15278,"h":1.15291,"l":1.15276,"c":1.15289,"m":0.00002},
{"t":"2025-11-20T22:35","o":1.15278,"h":1.15291,"l":1.15276,"c":1.15289,"m":0.000002},
{"t":"2025-11-20T22:40","o":1.15298,"h":1.15309,"l":1.15296,"c":1.15307,"m":-0.000013},
{"t":"2025-11-20T22:45","o":1.15316,"h":1.15318,"l":1.15276,"c":1.15278,"m":-0.000029},
{"t":"2025-11-20T22:50","o":1.15284,"h":1.15309,"l":1.15282,"c":1.15307,"m":-0.000046},
{"t":"2025-11-20T22:55","o":1.15284,"h":1.15286,"l":1.15267,"c":1.15269,"m":-0.000067},
{"t":"2025-11-20T23:00","o":1.15271,"h":1.15272,"l":1.15253,"c":1.1527,"m":-0.000088},
{"t":"2025-11-20T23:05","o":1.15246,"h":1.15259,"l":1.15244,"c":1.15257,"m":-0.000109},
{"t":"2025-11-20T23:10","o":1.15257,"h":1.15259,"l":1.15237,"c":1.15239,"m":-0.000127},
{"t":"2025-11-20T23:15","o":1.15246,"h":1.15259,"l":1.15244,"c":1.15257,"m":-0.000135},
{"t":"2025-11-20T23:20","o":1.15253,"h":1.15254,"l":1.15244,"c":1.15252,"m":-0.000143},
{"t":"2025-11-20T23:25","o":1.15255,"h":1.15268,"l":1.15253,"c":1.15266,"m":-0.000148},
{"t":"2025-11-20T23:30","o":1.15257,"h":1.1528,"l":1.15255,"c":1.15278,"m":-0.000147},
{"t":"2025-11-20T23:35","o":1.15269,"h":1.1527,"l":1.15262,"c":1.15268,"m":-0.000146},
{"t":"2025-11-20T23:40","o":1.15246,"h":1.15266,"l":1.15245,"c":1.15247,"m":-0.000145},
{"t":"2025-11-20T23:45","o":1.15269,"h":1.1528,"l":1.15267,"c":1.15278,"m":-0.000142},
{"t":"2025-11-20T23:50","o":1.15278,"h":1.1528,"l":1.15269,"c":1.15271,"m":-0.000139},
{"t":"2025-11-20T23:55","o":1.15284,"h":1.15285,"l":1.15271,"c":1.15283,"m":-0.000136},
{"t":"2025-11-21T00:00","o":1.15269,"h":1.15271,"l":1.15255,"c":1.15257,"m":-0.000133},
{"t":"2025-11-21T00:05","o":1.15271,"h":1.15286,"l":1.15269,"c":1.15284,"m":-0.000125},
{"t":"2025-11-21T00:10","o":1.15284,"h":1.15285,"l":1.15278,"c":1.15283,"m":-0.000116},
{"t":"2025-11-21T00:15","o":1.15278,"h":1.153,"l":1.15273,"c":1.15298,"m":-0.000107},
{"t":"2025-11-21T00:20","o":1.15289,"h":1.15311,"l":1.15287,"c":1.15309,"m":-0.000094},
{"t":"2025-11-21T00:25","o":1.15309,"h":1.1531,"l":1.153,"c":1.15308,"m":-0.00008},
{"t":"2025-11-21T00:30","o":1.15298,"h":1.15311,"l":1.15297,"c":1.15299,"m":-0.000067},
{"t":"2025-11-21T00:35","o":1.15305,"h":1.15306,"l":1.15298,"c":1.15304,"m":-0.00006},
{"t":"2025-11-21T00:40","o":1.15287,"h":1.153,"l":1.15285,"c":1.15298,"m":-0.000055},
{"t":"2025-11-21T00:45","o":1.15287,"h":1.153,"l":1.15285,"c":1.15298,"m":-0.00005},
{"t":"2025-11-21T00:50","o":1.15298,"h":1.15299,"l":1.1528,"c":1.15297,"m":-0.000048},
{"t":"2025-11-21T00:55","o":1.15278,"h":1.153,"l":1.15276,"c":1.15298,"m":-0.00005},
{"t":"2025-11-21T01:00","o":1.15307,"h":1.15308,"l":1.15278,"c":1.15306,"m":-0.000053},
{"t":"2025-11-21T01:05","o":1.15287,"h":1.15289,"l":1.15267,"c":1.15269,"m":-0.000062},
{"t":"2025-11-21T01:10","o":1.15257,"h":1.15259,"l":1.15244,"c":1.15246,"m":-0.000071},
{"t":"2025-11-21T01:15","o":1.15257,"h":1.15259,"l":1.15242,"c":1.15244,"m":-0.00008},
{"t":"2025-11-21T01:20","o":1.15239,"h":1.15259,"l":1.15237,"c":1.15257,"m":-0.000077},
{"t":"2025-11-21T01:25","o":1.15278,"h":1.15279,"l":1.15253,"c":1.15277,"m":-0.000073},
{"t":"2025-11-21T01:30","o":1.15273,"h":1.15289,"l":1.15271,"c":1.15287,"m":-0.000068},
{"t":"2025-11-21T01:35","o":1.15278,"h":1.15311,"l":1.15276,"c":1.15309,"m":-0.00005},
{"t":"2025-11-21T01:40","o":1.15298,"h":1.15327,"l":1.15296,"c":1.1532,"m":-0.000034},
{"t":"2025-11-21T01:45","o":1.15327,"h":1.15349,"l":1.15325,"c":1.15347,"m":-0.000014},
{"t":"2025-11-21T01:50","o":1.15334,"h":1.15349,"l":1.15332,"c":1.15347,"m":0.000007},
{"t":"2025-11-21T01:55","o":1.15347,"h":1.15348,"l":1.15338,"c":1.15346,"m":0.000027},
{"t":"2025-11-21T02:00","o":1.15327,"h":1.15329,"l":1.15307,"c":1.15309,"m":0.000027},
{"t":"2025-11-21T02:05","o":1.15309,"h":1.15311,"l":1.15296,"c":1.15298,"m":0.000027},
{"t":"2025-11-21T02:10","o":1.15298,"h":1.15311,"l":1.15289,"c":1.15309,"m":0.000027},
{"t":"2025-11-21T02:15","o":1.15318,"h":1.1532,"l":1.15296,"c":1.15298,"m":0.000027},
{"t":"2025-11-21T02:20","o":1.15289,"h":1.15311,"l":1.15287,"c":1.15309,"m":0.000027},
{"t":"2025-11-21T02:25","o":1.15316,"h":1.15318,"l":1.15287,"c":1.15298,"m":0.000027},
{"t":"2025-11-21T02:30","o":1.15289,"h":1.15309,"l":1.15287,"c":1.15307,"m":0.000027},
{"t":"2025-11-21T02:35","o":1.15298,"h":1.15329,"l":1.15296,"c":1.15327,"m":0.000035},
{"t":"2025-11-21T02:40","o":1.15318,"h":1.15347,"l":1.15316,"c":1.15338,"m":0.000046},
{"t":"2025-11-21T02:45","o":1.15327,"h":1.15358,"l":1.15325,"c":1.15356,"m":0.000056},
{"t":"2025-11-21T02:50","o":1.15338,"h":1.1537,"l":1.15336,"c":1.15356,"m":0.000068},
{"t":"2025-11-21T02:55","o":1.15327,"h":1.15372,"l":1.15325,"c":1.1537,"m":0.000081},
{"t":"2025-11-21T03:00","o":1.15347,"h":1.15367,"l":1.15345,"c":1.15365,"m":0.000095},
{"t":"2025-11-21T03:05","o":1.15379,"h":1.15388,"l":1.15366,"c":1.15368,"m":0.000108},
{"t":"2025-11-21T03:10","o":1.15379,"h":1.15381,"l":1.15366,"c":1.15368,"m":0.000113},
{"t":"2025-11-21T03:15","o":1.15347,"h":1.15365,"l":1.15346,"c":1.15348,"m":0.000118},
{"t":"2025-11-21T03:20","o":1.15343,"h":1.15356,"l":1.15342,"c":1.15344,"m":0.000117},
{"t":"2025-11-21T03:25","o":1.15356,"h":1.15358,"l":1.15326,"c":1.15338,"m":0.000115},
{"t":"2025-11-21T03:30","o":1.15347,"h":1.15349,"l":1.15317,"c":1.15335,"m":0.000114}
],
"levels":[
{"p":1.1584,"kind":"major"},{"p":1.1571,"kind":"minor"},{"p":1.1531,"kind":"minor"},{"p":1.1527,"kind":"minor"},{"p":1.1474,"kind":"minor"},{"p":1.1455,"kind":"major"},{"p":1.1538,"kind":"price"}
],
"vlines":[
{"t":"2025-11-20T00:00","kind":"day"},{"t":"2025-11-21T00:00","kind":"day"},{"t":"2025-11-20T07:00","kind":"session"},{"t":"2025-11-20T14:00","kind":"session"}
],
"zones":[
{"t1":"2025-11-20T11:35","t2":"2025-11-20T13:15","p1":1.15239,"p2":1.1532},
{"t1":"2025-11-20T15:15","t2":"2025-11-20T16:30","p1":1.15233,"p2":1.15341},
{"t1":"2025-11-20T17:05","t2":"2025-11-20T18:25","p1":1.15192,"p2":1.15318},
{"t1":"2025-11-20T19:15","t2":"2025-11-20T20:35","p1":1.15233,"p2":1.15349}
],
"notes":[{"head":"▼ EURUSD,M5  1.1538 1.1539 1.1537 1.1538","macd":"MACD(21,34,1) 0.00006 0.00006","brand":"instaforex","tag":"Instant Forex Trading","icon":"⚙"}]
},
"vconcat":[
{
"width":1424,"height":594,
"resolve":{"axis":{"x":"independent","y":"independent"}},
"layer":[
{"data":{"name":"zones"},"mark":{"type":"rect","color":"#ffd700"},
 "encoding":{"x":{"field":"t1","type":"temporal","scale":{"domain":[{"year":2025,"month":11,"date":19,"hours":21,"minutes":53,"seconds":7,"milliseconds":500},{"year":2025,"month":11,"date":21,"hours":3,"minutes":33,"seconds":7,"milliseconds":500}],"nice":false},"axis":null},
 "x2":{"field":"t2"},
 "y":{"field":"p1","type":"quantitative","scale":{"domain":[1.14498,1.16103],"nice":false,"zero":false},"axis":{"orient":"right","title":null,"values":[1.1465,1.1485,1.1495,1.1505,1.1515,1.1525,1.1535,1.1545,1.1555,1.1565,1.1575,1.1595,1.1605],"format":".4f","tickSize":4,"labelPadding":2}},
 "y2":{"field":"p2"}}},
{"data":{"name":"vlines"},"mark":{"type":"rule","color":"#7cfc00"},
 "encoding":{"x":{"field":"t","type":"temporal","scale":{"domain":[{"year":2025,"month":11,"date":19,"hours":21,"minutes":53,"seconds":7,"milliseconds":500},{"year":2025,"month":11,"date":21,"hours":3,"minutes":33,"seconds":7,"milliseconds":500}],"nice":false},"axis":null},
 "strokeWidth":{"field":"kind","type":"nominal","scale":{"domain":["day","session"],"range":[2,1]},"legend":null},
 "strokeDash":{"field":"kind","type":"nominal","scale":{"domain":["day","session"],"range":[[1,0],[4,3]]},"legend":null}}},
{"data":{"name":"levels"},"mark":{"type":"rule"},
 "encoding":{"y":{"field":"p","type":"quantitative","scale":{"domain":[1.14498,1.16103],"nice":false,"zero":false},"axis":null},
 "stroke":{"field":"kind","type":"nominal","scale":{"domain":["major","minor","price"],"range":["#ff0000","#ff0000","#c0c0c0"]},"legend":null},
 "strokeWidth":{"field":"kind","type":"nominal","scale":{"domain":["major","minor","price"],"range":[2,1,1]},"legend":null}}},
{"data":{"name":"bars"},"mark":{"type":"rule","color":"#000000","strokeWidth":1},
 "encoding":{"x":{"field":"t","type":"temporal","scale":{"domain":[{"year":2025,"month":11,"date":19,"hours":21,"minutes":53,"seconds":7,"milliseconds":500},{"year":2025,"month":11,"date":21,"hours":3,"minutes":33,"seconds":7,"milliseconds":500}],"nice":false},"axis":null},
 "y":{"field":"l","type":"quantitative","scale":{"domain":[1.14498,1.16103],"nice":false,"zero":false},"axis":null},
 "y2":{"field":"h"}}},
{"data":{"name":"bars"},"mark":{"type":"bar","size":2,"stroke":"#000000","strokeWidth":1},
 "encoding":{"x":{"field":"t","type":"temporal","scale":{"domain":[{"year":2025,"month":11,"date":19,"hours":21,"minutes":53,"seconds":7,"milliseconds":500},{"year":2025,"month":11,"date":21,"hours":3,"minutes":33,"seconds":7,"milliseconds":500}],"nice":false},"axis":null},
 "y":{"field":"o","type":"quantitative","scale":{"domain":[1.14498,1.16103],"nice":false,"zero":false},"axis":null},
 "y2":{"field":"c"},
 "fill":{"condition":{"test":"datum.c >= datum.o","value":"#ffffff"},"value":"#000000"}}},
{"data":{"name":"notes"},"mark":{"type":"text","align":"left","baseline":"middle","fontSize":9,"color":"#000000"},
 "encoding":{"x":{"datum":{"year":2025,"month":11,"date":19,"hours":21,"minutes":58},"type":"temporal","scale":{"domain":[{"year":2025,"month":11,"date":19,"hours":21,"minutes":53,"seconds":7,"milliseconds":500},{"year":2025,"month":11,"date":21,"hours":3,"minutes":33,"seconds":7,"milliseconds":500}],"nice":false},"axis":null},
 "y":{"datum":1.16081,"type":"quantitative","scale":{"domain":[1.14498,1.16103],"nice":false,"zero":false},"axis":null},
 "text":{"field":"head"}}},
{"data":{"name":"levels"},"mark":{"type":"bar","orient":"horizontal","size":11},
 "encoding":{"x":{"datum":{"year":2025,"month":11,"date":21,"hours":3,"minutes":37},"type":"temporal","scale":{"domain":[{"year":2025,"month":11,"date":19,"hours":21,"minutes":53,"seconds":7,"milliseconds":500},{"year":2025,"month":11,"date":21,"hours":3,"minutes":33,"seconds":7,"milliseconds":500}],"nice":false},"axis":null},
 "x2":{"datum":{"year":2025,"month":11,"date":21,"hours":4,"minutes":17}},
 "y":{"field":"p","type":"quantitative","scale":{"domain":[1.14498,1.16103],"nice":false,"zero":false},"axis":null},
 "color":{"field":"kind","type":"nominal","scale":{"domain":["major","minor","price"],"range":["#ff0000","#ff0000","#000000"]},"legend":null}}},
{"data":{"name":"levels"},"mark":{"type":"text","align":"left","baseline":"middle","fontSize":9,"dx":2,"color":"#ffffff"},
 "encoding":{"x":{"datum":{"year":2025,"month":11,"date":21,"hours":3,"minutes":37},"type":"temporal","scale":{"domain":[{"year":2025,"month":11,"date":19,"hours":21,"minutes":53,"seconds":7,"milliseconds":500},{"year":2025,"month":11,"date":21,"hours":3,"minutes":33,"seconds":7,"milliseconds":500}],"nice":false},"axis":null},
 "y":{"field":"p","type":"quantitative","scale":{"domain":[1.14498,1.16103],"nice":false,"zero":false},"axis":null},
 "text":{"field":"p","type":"quantitative","format":".4f"}}}
]
},
{
"width":1424,"height":129,
"resolve":{"axis":{"x":"independent","y":"independent"}},
"layer":[
{"data":{"name":"vlines"},"mark":{"type":"rule","color":"#7cfc00"},
 "encoding":{"x":{"field":"t","type":"temporal","scale":{"domain":[{"year":2025,"month":11,"date":19,"hours":21,"minutes":53,"seconds":7,"milliseconds":500},{"year":2025,"month":11,"date":21,"hours":3,"minutes":33,"seconds":7,"milliseconds":500}],"nice":false},"axis":null},
 "strokeWidth":{"field":"kind","type":"nominal","scale":{"domain":["day","session"],"range":[2,1]},"legend":null},
 "strokeDash":{"field":"kind","type":"nominal","scale":{"domain":["day","session"],"range":[[1,0],[4,3]]},"legend":null}}},
{"data":{"name":"bars"},"mark":{"type":"rule","color":"#c0c0c0","strokeWidth":2},
 "encoding":{"x":{"field":"t","type":"temporal","scale":{"domain":[{"year":2025,"month":11,"date":19,"hours":21,"minutes":53,"seconds":7,"milliseconds":500},{"year":2025,"month":11,"date":21,"hours":3,"minutes":33,"seconds":7,"milliseconds":500}],"nice":false},
  "axis":{"orient":"bottom","title":null,"tickSize":4,"labelPadding":2,"labelOffset":1,"labelAlign":"left","labelBaseline":"top","labelOverlap":false,"labelFlush":false,"values":[{"year":2025,"month":11,"date":19,"hours":21,"minutes":55},{"year":2025,"month":11,"date":19,"hours":23,"minutes":15},{"year":2025,"month":11,"date":20,"hours":0,"minutes":35},{"year":2025,"month":11,"date":20,"hours":1,"minutes":55},{"year":2025,"month":11,"date":20,"hours":3,"minutes":15},{"year":2025,"month":11,"date":20,"hours":4,"minutes":35},{"year":2025,"month":11,"date":20,"hours":5,"minutes":55},{"year":2025,"month":11,"date":20,"hours":7,"minutes":15},{"year":2025,"month":11,"date":20,"hours":8,"minutes":35},{"year":2025,"month":11,"date":20,"hours":9,"minutes":55},{"year":2025,"month":11,"date":20,"hours":11,"minutes":15},{"year":2025,"month":11,"date":20,"hours":12,"minutes":35},{"year":2025,"month":11,"date":20,"hours":13,"minutes":55},{"year":2025,"month":11,"date":20,"hours":15,"minutes":15},{"year":2025,"month":11,"date":20,"hours":16,"minutes":35},{"year":2025,"month":11,"date":20,"hours":17,"minutes":55},{"year":2025,"month":11,"date":20,"hours":19,"minutes":15},{"year":2025,"month":11,"date":20,"hours":20,"minutes":35},{"year":2025,"month":11,"date":20,"hours":21,"minutes":55},{"year":2025,"month":11,"date":20,"hours":23,"minutes":15},{"year":2025,"month":11,"date":21,"hours":0,"minutes":35},{"year":2025,"month":11,"date":21,"hours":1,"minutes":55},{"year":2025,"month":11,"date":21,"hours":3,"minutes":15}],"labelExpr":"timeFormat(datum.value,'%d %H:%M') == '19 21:55' ? '19 Nov 2025' : timeFormat(datum.value,'%d %b %H:%M')"}},
 "y":{"field":"m","type":"quantitative","scale":{"domain":[-0.000404,0.000479],"nice":false,"zero":false},
  "axis":{"orient":"right","title":null,"values":[0.00042,0,-0.00037],"tickSize":4,"labelPadding":2,"labelExpr":"datum.value == 0 ? '0.00' : replace(format(datum.value,'.5f'),'\u2212','-')"}},
 "y2":{"datum":0}}},
{"data":{"name":"bars"},"mark":{"type":"line","color":"#ff0000","strokeWidth":1},
 "encoding":{"x":{"field":"t","type":"temporal","scale":{"domain":[{"year":2025,"month":11,"date":19,"hours":21,"minutes":53,"seconds":7,"milliseconds":500},{"year":2025,"month":11,"date":21,"hours":3,"minutes":33,"seconds":7,"milliseconds":500}],"nice":false},"axis":null},
 "y":{"field":"m","type":"quantitative","scale":{"domain":[-0.000404,0.000479],"nice":false,"zero":false},"axis":null}}},
{"data":{"name":"notes"},"mark":{"type":"text","align":"left","baseline":"middle","fontSize":9,"color":"#000000"},
 "encoding":{"x":{"datum":{"year":2025,"month":11,"date":19,"hours":21,"minutes":59},"type":"temporal","scale":{"domain":[{"year":2025,"month":11,"date":19,"hours":21,"minutes":53,"seconds":7,"milliseconds":500},{"year":2025,"month":11,"date":21,"hours":3,"minutes":33,"seconds":7,"milliseconds":500}],"nice":false},"axis":null},
 "y":{"datum":0.000417,"type":"quantitative","scale":{"domain":[-0.000404,0.000479],"nice":false,"zero":false},"axis":null},
 "text":{"field":"macd"}}},
{"data":{"name":"notes"},"mark":{"type":"rect","color":"#7f7f7f","opacity":0.85},
 "encoding":{"x":{"datum":{"year":2025,"month":11,"date":19,"hours":21,"minutes":53,"seconds":8},"type":"temporal","scale":{"domain":[{"year":2025,"month":11,"date":19,"hours":21,"minutes":53,"seconds":7,"milliseconds":500},{"year":2025,"month":11,"date":21,"hours":3,"minutes":33,"seconds":7,"milliseconds":500}],"nice":false},"axis":null},
 "x2":{"datum":{"year":2025,"month":11,"date":20,"hours":1,"minutes":36}},
 "y":{"datum":-0.000247,"type":"quantitative","scale":{"domain":[-0.000404,0.000479],"nice":false,"zero":false},"axis":null},
 "y2":{"datum":-0.00056}}},
{"data":{"name":"notes"},"mark":{"type":"text","align":"center","baseline":"middle","fontSize":28,"color":"#dcdcdc","font":"DejaVu Sans"},
 "encoding":{"x":{"datum":{"year":2025,"month":11,"date":19,"hours":22,"minutes":18},"type":"temporal","scale":{"domain":[{"year":2025,"month":11,"date":19,"hours":21,"minutes":53,"seconds":7,"milliseconds":500},{"year":2025,"month":11,"date":21,"hours":3,"minutes":33,"seconds":7,"milliseconds":500}],"nice":false},"axis":null},
 "y":{"datum":-0.00036,"type":"quantitative","scale":{"domain":[-0.000404,0.000479],"nice":false,"zero":false},"axis":null},
 "text":{"field":"icon"}}},
{"data":{"name":"notes"},"mark":{"type":"text","align":"left","baseline":"middle","fontSize":26,"color":"#dcdcdc","font":"DejaVu Sans"},
 "encoding":{"x":{"datum":{"year":2025,"month":11,"date":19,"hours":22,"minutes":43},"type":"temporal","scale":{"domain":[{"year":2025,"month":11,"date":19,"hours":21,"minutes":53,"seconds":7,"milliseconds":500},{"year":2025,"month":11,"date":21,"hours":3,"minutes":33,"seconds":7,"milliseconds":500}],"nice":false},"axis":null},
 "y":{"datum":-0.00034,"type":"quantitative","scale":{"domain":[-0.000404,0.000479],"nice":false,"zero":false},"axis":null},
 "text":{"field":"brand"}}},
{"data":{"name":"notes"},"mark":{"type":"text","align":"left","baseline":"middle","fontSize":11,"color":"#dcdcdc","font":"DejaVu Sans"},
 "encoding":{"x":{"datum":{"year":2025,"month":11,"date":19,"hours":22,"minutes":50},"type":"temporal","scale":{"domain":[{"year":2025,"month":11,"date":19,"hours":21,"minutes":53,"seconds":7,"milliseconds":500},{"year":2025,"month":11,"date":21,"hours":3,"minutes":33,"seconds":7,"milliseconds":500}],"nice":false},"axis":null},
 "y":{"datum":-0.000493,"type":"quantitative","scale":{"domain":[-0.000404,0.000479],"nice":false,"zero":false},"axis":null},
 "text":{"field":"tag"}}}
]
}
]
}
